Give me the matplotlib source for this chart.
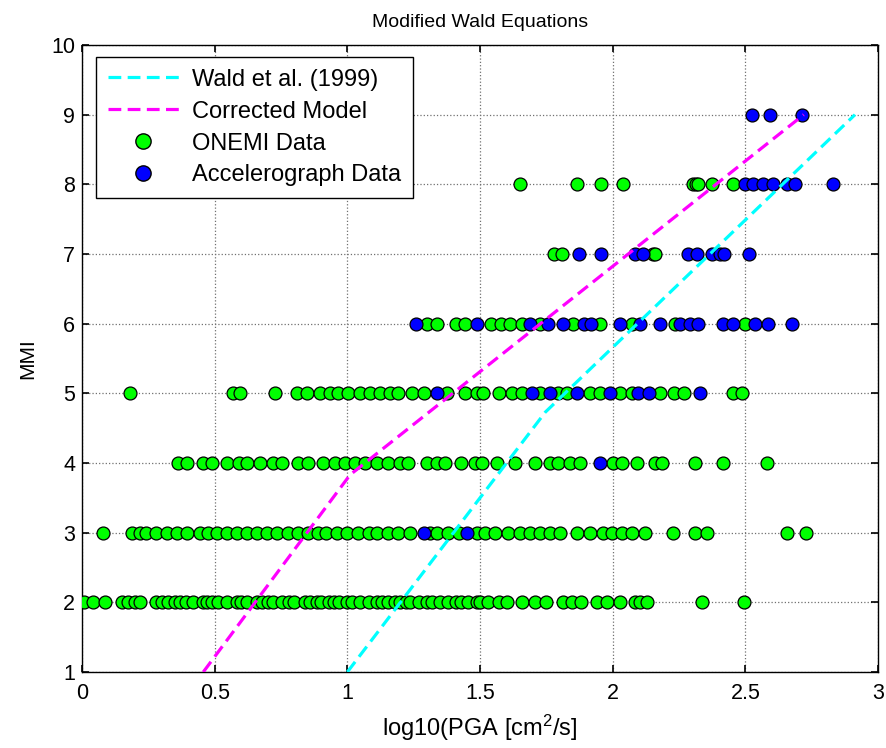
import numpy as np
import matplotlib
matplotlib.use('Agg')
import matplotlib.pyplot as plt
from matplotlib.lines import Line2D

plt.rcParams['font.family'] = ['Liberation Sans', 'DejaVu Sans']
plt.rcParams['mathtext.default'] = 'regular'

# model curves (log10 PGA vs MMI)
wald_x = [1.0, 1.746, 2.913]
wald_y = [1.0, 4.73, 9.0]
corr_x = [0.457, 1.01, 2.72]
corr_y = [1.0, 3.83, 9.0]

# ONEMI data, log10(PGA) per MMI level
onemi_2 = [0.008, 0.043, 0.087, 0.15, 0.175, 0.20, 0.22, 0.28, 0.30, 0.325, 0.35, 0.37, 0.39, 0.42,
           0.457, 0.47, 0.49, 0.514, 0.545, 0.583, 0.60, 0.62, 0.66, 0.68, 0.70, 0.72, 0.753, 0.78,
           0.80, 0.84, 0.86, 0.885, 0.90, 0.93, 0.95, 0.97, 1.0, 1.017, 1.048, 1.08, 1.11, 1.13,
           1.155, 1.18, 1.20, 1.22, 1.236, 1.27, 1.30, 1.32, 1.35, 1.38, 1.41, 1.43, 1.456, 1.49,
           1.50, 1.53, 1.57, 1.60, 1.657, 1.707, 1.75, 1.814, 1.846, 1.88, 1.94, 1.98, 2.028,
           2.085, 2.103, 2.128, 2.336, 2.493]
onemi_3 = [0.08, 0.187, 0.22, 0.24, 0.28, 0.32, 0.357, 0.395, 0.445, 0.476, 0.508, 0.545, 0.583,
           0.62, 0.66, 0.696, 0.734, 0.778, 0.815, 0.853, 0.89, 0.92, 0.96, 0.998, 1.04, 1.08,
           1.11, 1.155, 1.19, 1.236, 1.31, 1.337, 1.38, 1.42, 1.49, 1.52, 1.557, 1.607, 1.65,
           1.69, 1.726, 1.764, 1.80, 1.865, 1.915, 1.965, 1.997, 2.034, 2.072, 2.122, 2.229,
           2.31, 2.355, 2.656, 2.73]
onemi_4 = [0.363, 0.395, 0.457, 0.49, 0.545, 0.59, 0.62, 0.67, 0.72, 0.753, 0.815, 0.853, 0.91,
           0.954, 0.99, 1.03, 1.067, 1.11, 1.155, 1.2, 1.23, 1.30, 1.337, 1.368, 1.43, 1.48,
           1.507, 1.563, 1.632, 1.707, 1.764, 1.795, 1.84, 1.877, 2.003, 2.034, 2.09, 2.16,
           2.185, 2.31, 2.417, 2.58]
onemi_5 = [0.18, 0.57, 0.595, 0.727, 0.81, 0.847, 0.897, 0.935, 0.966, 1.004, 1.048, 1.086,
           1.123, 1.16, 1.19, 1.243, 1.287, 1.375, 1.444, 1.49, 1.513, 1.57, 1.62, 1.657, 1.726,
           1.795, 1.827, 1.915, 1.953, 2.028, 2.072, 2.179, 2.23, 2.267, 2.455, 2.487]
onemi_6 = [1.30, 1.337, 1.41, 1.444, 1.54, 1.58, 1.613, 1.657, 1.726, 1.852, 1.953, 2.072,
           2.235, 2.5]
onemi_7 = [1.777, 1.808, 2.153, 2.16]
onemi_8 = [1.651, 1.867, 1.955, 2.04, 2.304, 2.313, 2.323, 2.373, 2.455]

# Accelerograph data
acc_3 = [1.287, 1.45]
acc_4 = [1.953]
acc_5 = [1.337, 1.695, 1.764, 1.865, 1.99, 2.097, 2.135, 2.33]
acc_6 = [1.26, 1.49, 1.689, 1.758, 1.814, 1.89, 1.92, 2.028, 2.103, 2.179, 2.254, 2.29,
         2.323, 2.417, 2.455, 2.537, 2.587, 2.675]
acc_7 = [1.873, 1.956, 2.084, 2.116, 2.285, 2.317, 2.373, 2.405, 2.42, 2.515]
acc_8 = [2.5, 2.53, 2.568, 2.606, 2.656, 2.688, 2.832]
acc_9 = [2.524, 2.591, 2.713]


def stack(rows):
    xs, ys = [], []
    for level, vals in rows:
        xs += vals
        ys += [level] * len(vals)
    return np.array(xs), np.array(ys)


on_x, on_y = stack([(2, onemi_2), (3, onemi_3), (4, onemi_4), (5, onemi_5),
                    (6, onemi_6), (7, onemi_7), (8, onemi_8)])
ac_x, ac_y = stack([(3, acc_3), (4, acc_4), (5, acc_5), (6, acc_6),
                    (7, acc_7), (8, acc_8), (9, acc_9)])

fig = plt.figure(figsize=(8.86, 7.48), dpi=100)
ax = fig.add_axes([0.0926, 0.1016, 0.8984, 0.8382])

ms = 9.3
ax.plot(on_x, on_y, 'o', color='#00ff00', markeredgecolor='black', markeredgewidth=0.9,
        markersize=ms, zorder=3)
ax.plot(ac_x, ac_y, 'o', color='#0000ff', markeredgecolor='black', markeredgewidth=0.9,
        markersize=ms, zorder=4)
ax.plot(wald_x, wald_y, '--', color='#00ffff', lw=2.3, dashes=(4, 2), zorder=5)
ax.plot(corr_x, corr_y, '--', color='#ff00ff', lw=2.3, dashes=(4, 2), zorder=5)

ax.set_xlim(0, 3)
ax.set_ylim(1, 10)
ax.set_xticks(np.arange(0, 3.01, 0.5))
ax.set_xticklabels(['0', '0.5', '1', '1.5', '2', '2.5', '3'])
ax.set_yticks(range(1, 11))
ax.tick_params(direction='in', top=True, right=True, labelsize=15.5, length=5, width=1.2)
ax.tick_params(axis='x', pad=8)
ax.tick_params(axis='y', pad=5)
ax.grid(True, color='#707070', linestyle=':', linewidth=0.9)
ax.set_axisbelow(True)
for s in ax.spines.values():
    s.set_linewidth(1.0)

ax.set_title('Modified Wald Equations', fontsize=14, pad=13)
ax.set_xlabel('log10(PGA [cm$^2$/s]', fontsize=17, labelpad=6)
ax.set_ylabel('MMI', fontsize=15, labelpad=10)

handles = [
    Line2D([], [], color='#00ffff', ls='--', lw=2.3, dashes=(4, 2)),
    Line2D([], [], color='#ff00ff', ls='--', lw=2.3, dashes=(4, 2)),
    Line2D([], [], marker='o', ls='', color='#00ff00', markeredgecolor='black', markersize=11),
    Line2D([], [], marker='o', ls='', color='#0000ff', markeredgecolor='black', markersize=11),
]
labels = ['Wald et al. (1999)', 'Corrected Model', 'ONEMI Data', 'Accelerograph Data']
leg = ax.legend(handles, labels, loc='upper left', bbox_to_anchor=(0.0176, 0.981),
                borderaxespad=0, fontsize=17, fancybox=False, framealpha=1,
                edgecolor='black', handlelength=3.0, borderpad=0.5, labelspacing=0.42,
                handletextpad=0.55)
leg.get_frame().set_linewidth(1.0)
leg.set_zorder(10)

fig.savefig('out.png', dpi=100)
